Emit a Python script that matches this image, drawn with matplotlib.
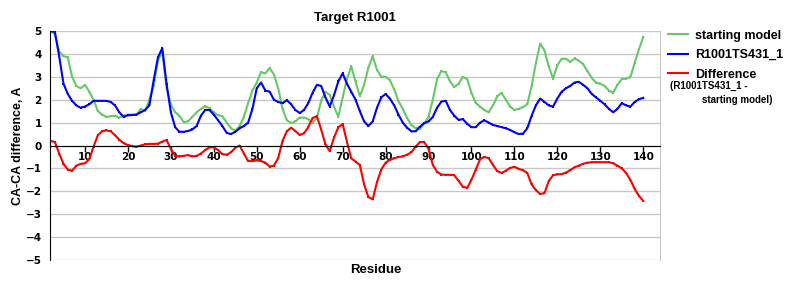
import numpy as np
import matplotlib
matplotlib.use("Agg")
import matplotlib.pyplot as plt

residues = np.arange(2, 141)

starting_model = [
    5.0, 4.85, 4.1, 3.9, 3.85, 3.0, 2.6, 2.5, 2.65, 2.35,
    2.0, 1.5, 1.35, 1.25, 1.28, 1.3, 1.22, 1.3, 1.35, 1.35,
    1.35, 1.6, 1.5, 2.0, 2.6, 3.7, 4.1, 2.5, 1.8, 1.45,
    1.3, 1.02, 1.05, 1.25, 1.45, 1.6, 1.72, 1.62, 1.45, 1.32,
    1.28, 1.0, 0.75, 0.65, 0.85, 1.25, 1.85, 2.4, 2.75, 3.2,
    3.15, 3.38, 3.1, 2.5, 1.6, 1.1, 0.98, 1.05, 1.22, 1.22,
    1.15, 1.0, 1.2, 1.95, 2.35, 2.2, 1.7, 1.25, 2.1, 2.9,
    3.45, 2.8, 2.15, 2.65, 3.4, 3.9, 3.3, 3.0, 3.0, 2.85,
    2.45, 1.95, 1.6, 1.2, 0.9, 0.75, 0.72, 0.95, 1.25, 2.0,
    2.9, 3.25, 3.2, 2.8, 2.55, 2.7, 3.0, 2.9, 2.3, 1.85,
    1.7, 1.55, 1.45, 1.75, 2.15, 2.3, 2.0, 1.7, 1.55, 1.6,
    1.68, 1.8, 2.6, 3.6, 4.45, 4.15, 3.45, 2.92, 3.5, 3.79,
    3.79, 3.65, 3.8, 3.7, 3.55, 3.25, 2.95, 2.75, 2.7, 2.6,
    2.4, 2.3, 2.65, 2.9, 2.92, 2.98, 3.6, 4.2, 4.73,
]

model_ts431 = [
    5.0, 4.95, 3.9, 2.7, 2.25, 1.95, 1.75, 1.65, 1.7, 1.8,
    1.95, 1.95, 1.95, 1.95, 1.9, 1.75, 1.45, 1.25, 1.32, 1.33,
    1.35, 1.45, 1.55, 1.75, 2.85, 3.85, 4.25, 2.7, 1.45, 0.8,
    0.6, 0.6, 0.63, 0.7, 0.85, 1.3, 1.55, 1.55, 1.35, 1.1,
    0.85, 0.55, 0.5, 0.6, 0.75, 0.85, 1.0, 1.6, 2.5, 2.75,
    2.4, 2.35, 2.0, 1.9, 1.85, 1.98, 1.8, 1.55, 1.42, 1.55,
    1.85, 2.3, 2.65, 2.6, 2.1, 1.7, 2.2, 2.8, 3.15, 2.7,
    2.35, 2.0, 1.5, 1.05, 0.85, 1.05, 1.65, 2.1, 2.25, 2.05,
    1.75, 1.35, 1.0, 0.78, 0.62, 0.62, 0.82, 0.98, 1.05, 1.25,
    1.65, 1.92, 1.95, 1.55, 1.3, 1.12, 1.15, 0.95, 0.8, 0.8,
    1.0, 1.1, 1.0, 0.9, 0.85, 0.8, 0.75, 0.68, 0.58, 0.5,
    0.52, 0.75, 1.3, 1.75, 2.05, 1.9, 1.75, 1.7, 2.05, 2.35,
    2.5, 2.6, 2.75, 2.78, 2.65, 2.5, 2.25, 2.1, 1.95, 1.8,
    1.6, 1.45, 1.6, 1.85, 1.75, 1.7, 1.9, 2.02, 2.08,
]

difference = [
    0.2, 0.15, -0.35, -0.8, -1.05, -1.1, -0.88, -0.8, -0.78, -0.6,
    -0.05, 0.45, 0.62, 0.66, 0.62, 0.45, 0.25, 0.1, 0.02, -0.03,
    -0.05, 0.0, 0.05, 0.07, 0.07, 0.08, 0.17, 0.24, -0.15, -0.45,
    -0.48, -0.45, -0.42, -0.48, -0.45, -0.35, -0.2, -0.08, -0.08, -0.2,
    -0.38, -0.4, -0.3, -0.1, 0.0, -0.35, -0.68, -0.68, -0.65, -0.68,
    -0.75, -0.92, -0.88, -0.55, 0.2, 0.62, 0.78, 0.63, 0.46, 0.53,
    0.8, 1.2, 1.28, 0.7, 0.05, -0.25, 0.35, 0.8, 0.93, 0.17,
    -0.56, -0.7, -0.85, -1.7, -2.25, -2.35, -1.6, -1.05, -0.75, -0.62,
    -0.56, -0.5, -0.48, -0.4, -0.3, -0.05, 0.15, 0.15, -0.15, -0.85,
    -1.15, -1.27, -1.28, -1.28, -1.3, -1.55, -1.8, -1.85, -1.5, -1.05,
    -0.6, -0.5, -0.55, -0.85, -1.12, -1.2, -1.1, -0.98, -0.93, -1.02,
    -1.08, -1.2, -1.7, -1.95, -2.12, -2.08, -1.55, -1.3, -1.26, -1.25,
    -1.18, -1.08, -0.95, -0.88, -0.8, -0.75, -0.73, -0.73, -0.73, -0.73,
    -0.73, -0.78, -0.88, -1.0, -1.2, -1.5, -1.9, -2.2, -2.42,
]

xticks = np.arange(10, 141, 10)
yticks = np.arange(-5, 6, 1)

fig = plt.figure(figsize=(8, 3), dpi=100)
ax = fig.add_axes([0.0625, 0.1333, 0.7625, 0.7634])

mk = dict(marker="s", markersize=1.6, markeredgewidth=0)
ax.plot(residues, starting_model, color="#66C866", lw=1.5, label="starting model", **mk)
ax.plot(residues, model_ts431, color="#0000FF", lw=1.5, label="R1001TS431_1", **mk)
ax.plot(residues, difference, color="#FF0000", lw=1.5, label="Difference", **mk)

ax.set_xlim(1.86, 143.9)
ax.set_ylim(-5, 5)
ax.set_yticks(yticks)
ax.set_xticks(xticks)
ax.grid(axis="y", color="#C8C8C8", lw=1)
ax.set_axisbelow(True)

ax.spines["bottom"].set_position(("data", 0))
ax.spines["bottom"].set_color("black")
ax.spines["left"].set_color("black")
ax.spines["top"].set_visible(False)
ax.spines["right"].set_color("#C8C8C8")

ax.tick_params(axis="x", direction="out", length=4, width=1, pad=1,
               labelsize=7.5, colors="black")
ax.tick_params(axis="y", length=0, pad=6, labelsize=7.5)
for lab in ax.get_xticklabels() + ax.get_yticklabels():
    lab.set_fontweight("bold")
    lab.set_family("DejaVu Sans")

ax.set_title("Target R1001", fontsize=9.5, fontweight="bold",
             family="Liberation Sans", pad=7)
ax.set_ylabel("CA-CA difference, A", fontsize=9, fontweight="bold",
              family="Liberation Sans", labelpad=1)
fig.text(0.47, 0.1, "Residue", fontsize=9.5, fontweight="bold",
         family="Liberation Sans", ha="center", va="center")

leg = ax.legend(loc="upper left", bbox_to_anchor=(0.995, 1.055), frameon=False,
                handlelength=1.6, handletextpad=0.55, labelspacing=0.6,
                prop={"family": "Liberation Sans", "weight": "bold", "size": 9})
for h in leg.get_lines():
    h.set_marker("")
fig.text(0.8375, 0.714, "(R1001TS431_1 -", fontsize=7, fontweight="bold",
         family="Liberation Sans", ha="left", va="center")
fig.text(0.877, 0.667, "starting model)", fontsize=7, fontweight="bold",
         family="Liberation Sans", ha="left", va="center")

fig.savefig("out.png", dpi=100)
